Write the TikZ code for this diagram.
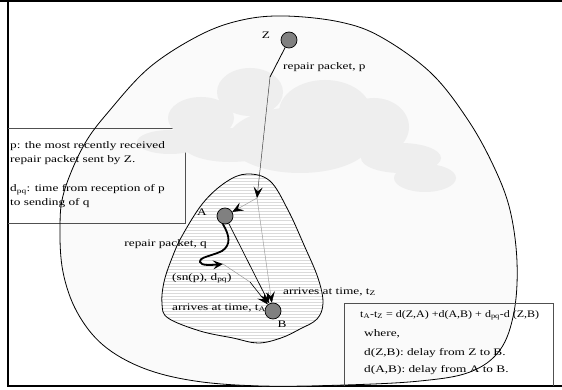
\documentclass[tikz,border=0pt]{standalone}
\usepackage{fontspec}
\setmainfont{Liberation Serif}[FakeStretch=1.33]
\newfontfamily\eqfont{Liberation Serif}[FakeStretch=1.2]
\usetikzlibrary{arrows.meta}
\definecolor{blobfill}{HTML}{FAFAFA}
\definecolor{cloudfill}{HTML}{EEEEEE}
\definecolor{hatchcol}{HTML}{DADADA}
\definecolor{dotfill}{HTML}{808080}
\definecolor{thincol}{HTML}{9A9A9A}
\definecolor{boxcol}{HTML}{505050}
\tikzset{
  lbl/.style={font=\fontsize{10}{12}\selectfont, inner sep=0pt, anchor=base west},
  dot/.style={circle, minimum size=16pt, inner sep=0pt, fill=dotfill, draw=black, line width=0.7pt},
  myarrow/.style={-{Stealth[length=11pt,width=9pt,inset=4.5pt,color=black]}},
  thinline/.style={draw=thincol, line width=0.45pt},
  cloudpart/.style={fill=cloudfill, draw=none},
}
\begin{document}
\begin{tikzpicture}[x=1pt,y=-1pt]
\useasboundingbox (0,0) rectangle (562,390);
% frame
\draw[line width=1.6pt] (0,1) -- (562,1);
\draw[line width=1.4pt] (8,0) -- (8,386) -- (562,386);
% outer blob
\path[fill=blobfill] plot[smooth cycle, tension=0.6] coordinates {
 (285,16) (340,22) (381,37) (431,73) (468,120) (494,167) (510,210)
 (517,262) (514,312) (500,350) (470,372) (420,381) (345,385) (262,386)
 (195,381) (143,368) (103,345) (77,312) (63,272) (60,228) (64,192)
 (84,145) (110,110) (150,67) (200,35) (242,20)};
% left text box
\draw[boxcol, line width=0.8pt] (8,128) -- (185,128) -- (185,223) -- (8,223);
% cloud
\fill[cloudpart] (250,92) ellipse [x radius=33, y radius=24];
\fill[cloudpart] (325,112) ellipse [x radius=46, y radius=32];
\fill[cloudpart] (374,127) ellipse [x radius=35, y radius=29];
\fill[cloudpart] (201,118) ellipse [x radius=33, y radius=21];
\fill[cloudpart] (170,142) ellipse [x radius=33, y radius=12];
\fill[cloudpart] (230,145) ellipse [x radius=47, y radius=17];
\fill[cloudpart] (300,140) ellipse [x radius=72, y radius=33];
\fill[cloudpart] (401,158) ellipse [x radius=40, y radius=15];
\fill[cloudpart] (425,178) ellipse [x radius=31, y radius=14];
% outer blob outline
\draw[line width=0.8pt] plot[smooth cycle, tension=0.6] coordinates {
 (285,16) (340,22) (381,37) (431,73) (468,120) (494,167) (510,210)
 (517,262) (514,312) (500,350) (470,372) (420,381) (345,385) (262,386)
 (195,381) (143,368) (103,345) (77,312) (63,272) (60,228) (64,192)
 (84,145) (110,110) (150,67) (200,35) (242,20)};
% inner hatched blob
\begin{scope}
\clip plot[smooth cycle, tension=0.6] coordinates {
 (247,174) (270,181) (288,210) (304,245) (318,278) (323,303) (317,319)
 (300,329) (281,338) (258,343) (233,338) (200,331) (168,318) (162,304)
 (164,282) (172,258) (182,236) (203,203) (226,182)};
\fill[white] (150,165) rectangle (330,350);
\foreach \yy in {170,173,...,350} { \draw[hatchcol, line width=1pt] (150,\yy) -- (330,\yy); }
\end{scope}
\draw[line width=0.8pt] plot[smooth cycle, tension=0.6] coordinates {
 (247,174) (270,181) (288,210) (304,245) (318,278) (323,303) (317,319)
 (300,329) (281,338) (258,343) (233,338) (200,331) (168,318) (162,304)
 (164,282) (172,258) (182,236) (203,203) (226,182)};
% equation box
\draw[boxcol, line width=0.8pt] (344,386) -- (344,303) -- (553,303) -- (553,386);
% texts
\node[lbl] (b1) at (10,149) {p: the most recently received};
\node[lbl] (b2) at (10,163) {repair packet sent by Z.};
\node[lbl] (b3) at (10,192) {d\textsubscript{pq}: time from reception of p};
\node[lbl] (b4) at (10,206) {to sending of q};
\node[lbl] (lp) at (283,70) {repair packet, p};
\node[lbl, anchor=base east] (lq) at (207,246) {repair packet, q};
\node[lbl] (lsn) at (172,280) {(sn(p), d\textsubscript{pq})};
\node[lbl] (ltA) at (172,310) {arrives at time, t\textsubscript{A}};
\node[lbl] (ltZ) at (283,294) {arrives at time, t\textsubscript{Z}};
\node[lbl, font=\fontsize{10}{12}\eqfont] (e1) at (360,317) {t\textsubscript{A}-t\textsubscript{Z} = d(Z,A) +d(A,B) + d\textsubscript{pq}-d (Z,B)};
\node[lbl] (e2) at (364,336) {where,};
\node[lbl] (e3) at (364,355) {d(Z,B): delay from Z to B.};
\node[lbl] (e4) at (364,372) {d(A,B): delay from A to B.};
% nodes
\node[dot] (Z) at (289,40) {};
\node[dot] (A) at (225,216) {};
\node[dot] (B) at (273,311) {};
\node[lbl, anchor=base] (lZ) at (266,39) {Z};
\node[lbl, anchor=base] (lA) at (202,215) {A};
\node[lbl, anchor=base] (lB) at (282,327) {B};
% connectors
\coordinate (bend) at (270,77);
\coordinate (J) at (257,198);
\coordinate (q) at (223,264);
\coordinate (m) at (250,282);
\draw[line width=0.8pt] (Z) -- (bend);
\draw[draw=black!75, line width=0.5pt, myarrow] (bend) -- (J);
\draw[thinline, myarrow] (J) -- (A);
\draw[thinline, myarrow] (J) -- (B);
\draw[line width=0.7pt, myarrow] (A) -- (B);
\draw[line width=1.8pt, -{Stealth[length=10pt,width=9pt,inset=4pt]}] (A.255)
  .. controls (230,236) and (231,245) .. (222,251)
  .. controls (212,256) and (199,257) .. (200,262)
  .. controls (201,266) and (212,265) .. (q);
\draw[thinline] (q) -- (m);
\draw[line width=0.6pt, myarrow] (m) -- (B);
\end{tikzpicture}
\end{document}
